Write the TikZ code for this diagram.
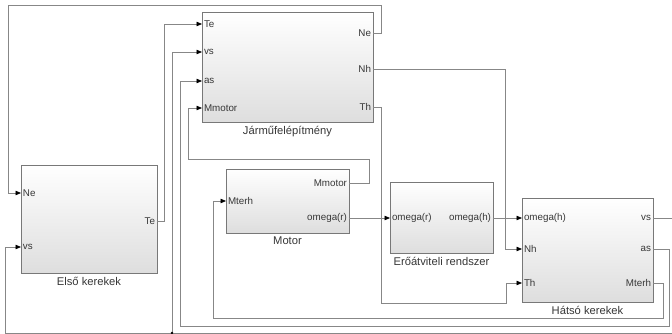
\documentclass[tikz,border=0pt]{standalone}
\usepackage{fontspec}
\setmainfont{Liberation Sans}
\usetikzlibrary{arrows.meta,shadows}
\definecolor{wire}{RGB}{135,135,135}
\definecolor{bord}{RGB}{120,120,120}
\definecolor{txt}{RGB}{55,55,55}
\tikzset{
  blk/.style={draw=bord, line width=0.8pt, top color=white, bottom color=black!13,
    drop shadow={shadow xshift=1.2pt, shadow yshift=-1.2pt, opacity=0.25}, inner sep=0pt, outer sep=0pt},
  pinl/.style={anchor=west, inner xsep=2pt, inner ysep=0pt, outer sep=0pt, font=\fontsize{9.8}{11}\selectfont, text=txt},
  pinr/.style={anchor=east, inner xsep=2pt, inner ysep=0pt, outer sep=0pt, font=\fontsize{9.8}{11}\selectfont, text=txt},
  blabel/.style={anchor=north, inner sep=0pt, font=\fontsize{11.2}{13}\selectfont, text=txt},
  wirel/.style={draw=wire, line width=0.7pt},
  sig/.style={wirel, -{Triangle[length=5.5pt,width=4.5pt,fill=black,color=black]}},
}
\begin{document}
\begin{tikzpicture}[x=1pt,y=-1pt]
\useasboundingbox (0,0) rectangle (672,334);
\fill[white] (0,0) rectangle (672,334);

% blocks
\node[blk, minimum width=136pt, minimum height=108pt] (elso) at (89,219) {};
\node[blk, minimum width=171pt, minimum height=110pt] (jarmu) at (287.5,67) {};
\node[blk, minimum width=123pt, minimum height=64pt] (motor) at (287.5,201) {};
\node[blk, minimum width=103pt, minimum height=71pt] (ero) at (441.5,217.5) {};
\node[blk, minimum width=131pt, minimum height=104pt] (hatso) at (587.5,250) {};

% labels
\node[blabel] (elsoL) at ([yshift=-4pt]elso.south) {Első kerekek};
\node[blabel] (jarmuL) at ([yshift=-4pt]jarmu.south) {Járműfelépítmény};
\node[blabel] (motorL) at ([yshift=-4pt]motor.south) {Motor};
\node[blabel] (eroL) at ([yshift=-4pt]ero.south) {Erőátviteli rendszer};
\node[blabel] (hatsoL) at ([yshift=-4pt]hatso.south) {Hátsó kerekek};

% ports: Első
\node[pinl] (eNe) at (elso.west |- 0,193) {Ne};
\node[pinl] (evs) at (elso.west |- 0,247) {vs};
\node[pinr] (eTe) at (elso.east |- 0,221) {Te};
% ports: Jármű
\node[pinl] (jTe) at (jarmu.west |- 0,24) {Te};
\node[pinl] (jvs) at (jarmu.west |- 0,52) {vs};
\node[pinl] (jas) at (jarmu.west |- 0,81) {as};
\node[pinl] (jMm) at (jarmu.west |- 0,108) {Mmotor};
\node[pinr] (jNe) at (jarmu.east |- 0,33) {Ne};
\node[pinr] (jNh) at (jarmu.east |- 0,69) {Nh};
\node[pinr] (jTh) at (jarmu.east |- 0,107) {Th};
% ports: Motor
\node[pinl] (mMt) at (motor.west |- 0,201) {Mterh};
\node[pinr] (mMm) at (motor.east |- 0,183) {Mmotor};
\node[pinr] (mom) at (motor.east |- 0,218) {omega(r)};
% ports: Erő
\node[pinl] (rin) at (ero.west |- 0,218) {omega(r)};
\node[pinr] (rout) at (ero.east |- 0,218) {omega(h)};
% ports: Hátsó
\node[pinl] (hom) at (hatso.west |- 0,218) {omega(h)};
\node[pinl] (hNh) at (hatso.west |- 0,249) {Nh};
\node[pinl] (hTh) at (hatso.west |- 0,283) {Th};
\node[pinr] (hvs) at (hatso.east |- 0,218) {vs};
\node[pinr] (has) at (hatso.east |- 0,249) {as};
\node[pinr] (hMt) at (hatso.east |- 0,283) {Mterh};

% connectors
\draw[sig] (eTe.east) -- (164,221) -- (164,24) -- (jTe.west);
\draw[sig] (jNe.east) -- (381,33) -- (381,5) -- (8,5) -- (8,193) -- (eNe.west);
\draw[sig] (mMm.east) -- (369,183) -- (369,159) -- (188,159) -- (188,108) -- (jMm.west);
\draw[sig] (mom.east) -- (rin.west);
\draw[sig] (rout.east) -- (hom.west);
\draw[sig] (jNh.east) -- (505,69) -- (505,249) -- (hNh.west);
\draw[sig] (jTh.east) -- (381,107) -- (381,303) -- (506,303) -- (506,283) -- (hTh.west);
\draw[sig] (hMt.east) -- (663,283) -- (663,318) -- (213,318) -- (213,201) -- (mMt.west);
\draw[sig] (has.east) -- (669,249) -- (669,326) -- (180,326) -- (180,81) -- (jas.west);
\coordinate (br) at (172,333);
\draw[sig] (hvs.east) -- (676,218) -- (676,333) -- (5,333) -- (5,247) -- (evs.west);
\draw[sig] (br) -- (172,52) -- (jvs.west);
\fill[black] (br) circle (1.4pt);
\end{tikzpicture}
\end{document}
